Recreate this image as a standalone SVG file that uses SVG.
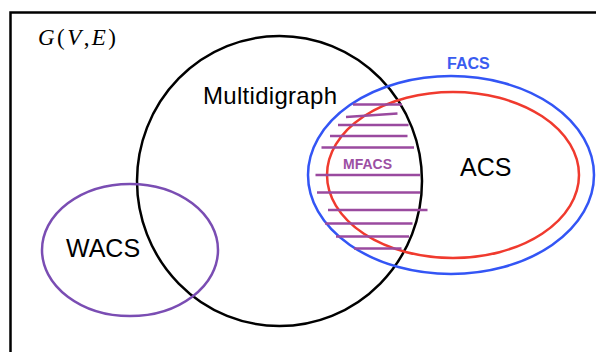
<svg xmlns="http://www.w3.org/2000/svg" width="596" height="352" viewBox="0 0 596 352">
<defs>
<style>
.shape{fill:none;stroke-width:2.5}
.lbl{font-family:"Liberation Sans",Arial,sans-serif;fill:#000}
.hatch line{stroke:#9a4a9f;stroke-width:2.5;stroke-linecap:butt}
</style>
</defs>
<rect width="596" height="352" fill="#fff"/>
<g id="frame">
<path d="M10.5,352 V12.5 H596" fill="none" stroke="#000" stroke-width="2.5"/>
<text x="38" y="45" font-family="'Liberation Serif','DejaVu Serif',serif" font-size="23" textLength="78" lengthAdjust="spacing"><tspan font-style="italic">G</tspan>(<tspan font-style="italic">V</tspan>,<tspan font-style="italic">E</tspan>)</text>
</g>
<g id="multidigraph">
<ellipse class="shape" cx="279.5" cy="181" rx="142.5" ry="145" stroke="#000"/>
<text class="lbl" x="203" y="103.5" font-size="24" textLength="134" lengthAdjust="spacing">Multidigraph</text>
</g>
<g id="wacs">
<ellipse class="shape" cx="130" cy="250" rx="88" ry="66" stroke="#7a4db3"/>
<text class="lbl" x="66" y="257" font-size="25">WACS</text>
</g>
<g id="facs">
<ellipse class="shape" cx="451" cy="175" rx="143" ry="99" stroke="#3355f5"/>
<text x="447" y="68.5" font-family="'Liberation Sans',Arial,sans-serif" font-weight="bold" font-size="16" fill="#3a5cf0">FACS</text>
</g>
<g id="acs">
<ellipse class="shape" cx="453" cy="175" rx="126" ry="83" stroke="#f03a2e"/>
<text class="lbl" x="460" y="176" font-size="25">ACS</text>
</g>
<g id="mfacs">
<g class="hatch">
<line x1="353" y1="104.5" x2="402" y2="104.5"/>
<line x1="346" y1="117" x2="397.5" y2="113.5"/>
<line x1="338" y1="125" x2="408.5" y2="125"/>
<line x1="330" y1="136" x2="407.5" y2="136"/>
<line x1="321.5" y1="147.5" x2="414" y2="147.5"/>
<line x1="315.5" y1="175" x2="420" y2="175"/>
<line x1="317" y1="192.5" x2="420" y2="192.5"/>
<line x1="328" y1="210" x2="427.5" y2="210"/>
<line x1="325" y1="223.5" x2="412.5" y2="223.5"/>
<line x1="336" y1="236.5" x2="409" y2="236.5"/>
<line x1="354" y1="248.5" x2="401.5" y2="248.5"/>
</g>
<text x="343" y="169" font-family="'Liberation Sans',Arial,sans-serif" font-weight="bold" font-size="14" fill="#9c4fa3">MFACS</text>
</g>
</svg>
